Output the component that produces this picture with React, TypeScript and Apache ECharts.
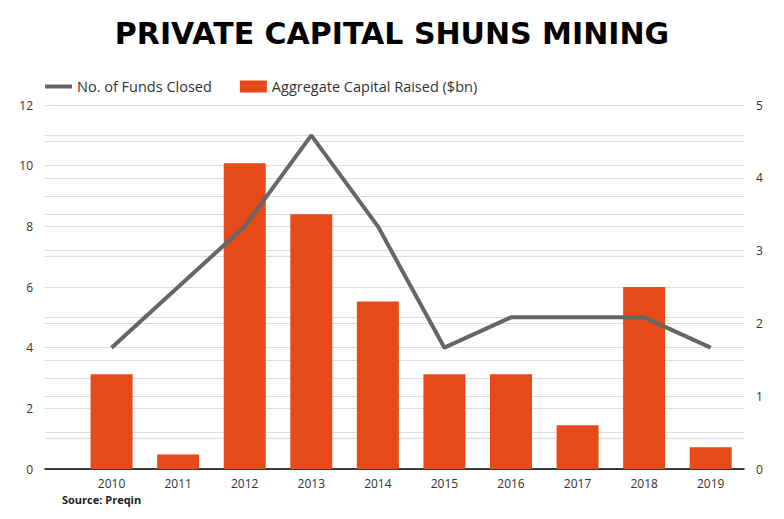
import React, { useEffect, useRef } from "react";
import * as echarts from "echarts";

const years = ["2010", "2011", "2012", "2013", "2014", "2015", "2016", "2017", "2018", "2019"];
const fundsClosed = [4, 6, 8, 11, 8, 4, 5, 5, 5, 4];
const capitalRaised = [1.3, 0.2, 4.2, 3.5, 2.3, 1.3, 1.3, 0.6, 2.5, 0.3];
const leftTickLabels = ["0", "2", "4", "6", "8", "10", "12"];
const rightTickLabels = ["0", "1", "2", "3", "4", "5"];

const FONT = "Open Sans";
const LINE_ICON = "path://M0,0 L0.01,0 L0.01,0.01 Z M0,4 L27,4 L27,8 L0,8 Z M26.99,12 L27,12 L27,11.99 Z";

export default function App() {
  const ref = useRef<HTMLDivElement>(null);
  useEffect(() => {
    if (!ref.current) return;
    const chart = echarts.init(ref.current, null, { renderer: "svg" });
    chart.setOption({
      animation: false,
      backgroundColor: "#ffffff",
      textStyle: { fontFamily: FONT },
      title: {
        text: "PRIVATE CAPITAL SHUNS MINING",
        left: "center",
        top: 13,
        textStyle: { fontFamily: "DejaVu Sans", fontWeight: "bold", fontSize: 30, color: "#000000" },
      },
      legend: {
        left: 40,
        top: 74,
        itemGap: 28,
        itemWidth: 27,
        itemHeight: 12,
        textStyle: { fontFamily: FONT, fontSize: 14.5, color: "#333333" },
        data: [
          { name: "No. of Funds Closed", icon: LINE_ICON, itemStyle: { color: "#666666" } },
          { name: "Aggregate Capital Raised ($bn)", icon: "rect" },
        ],
      },
      grid: { left: 45, right: 40, top: 105, bottom: 50, containLabel: false },
      xAxis: {
        type: "value",
        min: -1,
        max: 9.5,
        interval: 1,
        axisLine: { show: true, onZero: false, lineStyle: { color: "#000000", width: 1.5 } },
        axisTick: { show: false },
        splitLine: { show: false },
        axisLabel: {
          color: "#333333",
          fontSize: 12,
          margin: 8,
          showMaxLabel: false,
          formatter: (v: number) => (Number.isInteger(v) && v >= 0 && v < years.length ? years[v] : ""),
        },
      },
      yAxis: [
        {
          type: "value",
          min: 0,
          max: 12,
          interval: 1,
          position: "left",
          axisLine: { show: false },
          axisTick: { show: false },
          splitLine: { show: true, lineStyle: { color: "#dddddd", width: 1 } },
          axisLabel: {
            color: "#333333",
            fontSize: 12,
            margin: 12,
            formatter: (v: number) => (v % 2 === 0 ? leftTickLabels[v / 2] : ""),
          },
        },
        {
          type: "value",
          min: 0,
          max: 5,
          interval: 0.5,
          position: "right",
          axisLine: { show: false },
          axisTick: { show: false },
          splitLine: { show: true, lineStyle: { color: "#dddddd", width: 1 } },
          axisLabel: {
            color: "#333333",
            fontSize: 12,
            margin: 12,
            formatter: (v: number) => (Number.isInteger(v) ? rightTickLabels[v] : ""),
          },
        },
      ],
      series: [
        {
          name: "Aggregate Capital Raised ($bn)",
          type: "bar",
          yAxisIndex: 1,
          barWidth: 42,
          itemStyle: { color: "#E64A19" },
          data: capitalRaised.map((v, i) => [i, v]),
        },
        {
          name: "No. of Funds Closed",
          type: "line",
          yAxisIndex: 0,
          symbol: "none",
          lineStyle: { color: "#666666", width: 4 },
          itemStyle: { color: "#666666" },
          z: 5,
          data: fundsClosed.map((v, i) => [i, v]),
        },
      ],
      graphic: [
        {
          type: "text",
          left: 62,
          top: 494,
          style: { text: "Source: Preqin", fontFamily: FONT, fontWeight: "bold", fontSize: 11, fill: "#222222" },
        },
      ],
    });
    return () => chart.dispose();
  }, []);
  return (
    <div
      ref={ref}
      style={{ position: "fixed", left: 0, top: 0, width: 784, height: 519 }}
    />
  );
}
